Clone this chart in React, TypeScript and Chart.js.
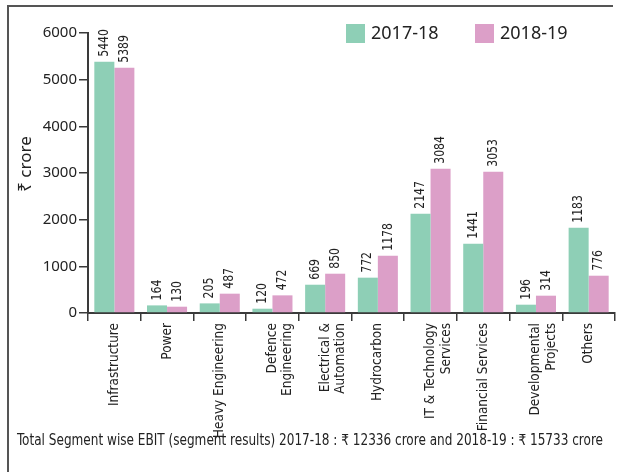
import { useEffect, useRef } from "react";
import { Chart, registerables } from "chart.js";

Chart.register(...registerables);

const categories: string[][] = [
  ["Infrastructure"],
  ["Power"],
  ["Heavy Engineering"],
  ["Defence", "Engineering"],
  ["Electrical &", "Automation"],
  ["Hydrocarbon"],
  ["IT & Technology", "Services"],
  ["Financial Services"],
  ["Developmental", "Projects"],
  ["Others"],
];
const seriesNames = ["2017-18", "2018-19"];
// bar heights as drawn in the picture
const values2017 = [5385, 163, 206, 92, 606, 757, 2128, 1485, 178, 1828];
const values2018 = [5257, 135, 414, 378, 842, 1228, 3093, 3028, 371, 799];
// printed value labels
const labels2017 = ["5440", "164", "205", "120", "669", "772", "2147", "1441", "196", "1183"];
const labels2018 = ["5389", "130", "487", "472", "850", "1178", "3084", "3053", "314", "776"];
const yMax = 6000;
const yStep = 1000;
const yTitle = "₹ crore";
const footerText =
  "Total Segment wise EBIT (segment results) 2017-18 : ₹ 12336 crore and 2018-19 : ₹ 15733 crore";

const GREEN = "#8ecfb6";
const PINK = "#dc9fc8";
const AXIS = "#3a3a3a";
const TEXT = "#222222";
const NARROW = "'DejaVu Sans Condensed', 'Liberation Sans Narrow', 'Noto Sans', sans-serif";
const NORMAL = "'Noto Sans', 'Open Sans', sans-serif";

export default function App() {
  const ref = useRef<HTMLCanvasElement | null>(null);

  useEffect(() => {
    if (!ref.current) return;
    const valueLabels = [labels2017, labels2018];

    const decorations = {
      id: "decorations",
      beforeDraw(chart: any) {
        const ctx = chart.ctx;
        ctx.save();
        ctx.strokeStyle = "#555555";
        ctx.lineWidth = 2;
        ctx.beginPath();
        ctx.moveTo(8, 472);
        ctx.lineTo(8, 6);
        ctx.lineTo(613, 6);
        ctx.stroke();
        ctx.restore();
      },
      afterDraw(chart: any) {
        const ctx = chart.ctx;
        const area = chart.chartArea;
        ctx.save();
        // value labels
        ctx.fillStyle = TEXT;
        ctx.font = `14px ${NARROW}`;
        ctx.textAlign = "left";
        ctx.textBaseline = "middle";
        chart.data.datasets.forEach((ds: any, di: number) => {
          const meta = chart.getDatasetMeta(di);
          meta.data.forEach((bar: any, i: number) => {
            ctx.save();
            ctx.translate(bar.x, bar.y - 5);
            ctx.rotate(-Math.PI / 2);
            ctx.scale(0.86, 1);
            ctx.fillText(valueLabels[di][i], 0, 0);
            ctx.restore();
          });
        });
        // legend
        const colors = [GREEN, PINK];
        const lx = [346, 475];
        ctx.font = `18px ${NORMAL}`;
        ctx.textBaseline = "middle";
        seriesNames.forEach((name, i) => {
          ctx.fillStyle = colors[i];
          ctx.fillRect(lx[i], 24, 19, 19);
          ctx.fillStyle = TEXT;
          ctx.fillText(name, lx[i] + 25, 34);
        });
        // y title
        ctx.save();
        ctx.translate(26, (area.top + area.bottom) / 2 - 9);
        ctx.rotate(-Math.PI / 2);
        ctx.textAlign = "center";
        ctx.textBaseline = "middle";
        ctx.font = `17px ${NORMAL}`;
        ctx.fillText(yTitle, 0, 0);
        ctx.restore();
        // footer
        ctx.textAlign = "left";
        ctx.textBaseline = "middle";
        ctx.font = `15px ${NARROW}`;
        ctx.fillText(footerText, 17, 441, 586);
        ctx.restore();
      },
    };

    const chart = new Chart(ref.current, {
      type: "bar",
      data: {
        labels: categories,
        datasets: [
          { label: seriesNames[0], data: values2017, backgroundColor: GREEN, borderWidth: 0 },
          { label: seriesNames[1], data: values2018, backgroundColor: PINK, borderWidth: 0 },
        ],
      },
      options: {
        animation: false,
        responsive: false,
        maintainAspectRatio: false,
        devicePixelRatio: 1,
        layout: { padding: { top: 33, right: 4, left: 0, bottom: 0 } },
        datasets: { bar: { categoryPercentage: 0.76, barPercentage: 1 } },
        plugins: { legend: { display: false }, tooltip: { enabled: false } },
        scales: {
          x: {
            grid: { display: true, drawOnChartArea: false, offset: true, tickLength: 8, color: AXIS, lineWidth: 1.5 },
            border: { display: true, color: AXIS, width: 2 },
            ticks: {
              autoSkip: false,
              maxRotation: 90,
              minRotation: 90,
              padding: 2,
              color: TEXT,
              font: { family: NARROW, size: 13.5, lineHeight: 1.15 },
            },
            afterFit(scale: any) {
              scale.height = 159;
            },
          },
          y: {
            min: 0,
            max: yMax,
            grid: { display: true, drawOnChartArea: false, tickLength: 9, color: AXIS, lineWidth: 1.5 },
            border: { display: true, color: AXIS, width: 2 },
            ticks: {
              stepSize: yStep,
              padding: 2,
              color: TEXT,
              font: { family: NORMAL, size: 15 },
              callback: (v: any) => String(v),
            },
            afterFit(scale: any) {
              scale.width = 88;
            },
          },
        },
      },
      plugins: [decorations],
    });
    return () => chart.destroy();
  }, []);

  return (
    <div style={{ position: "fixed", left: 0, top: 0, width: 619, height: 472, background: "#fff" }}>
      <canvas ref={ref} width={619} height={472} style={{ width: 619, height: 472 }} />
    </div>
  );
}
